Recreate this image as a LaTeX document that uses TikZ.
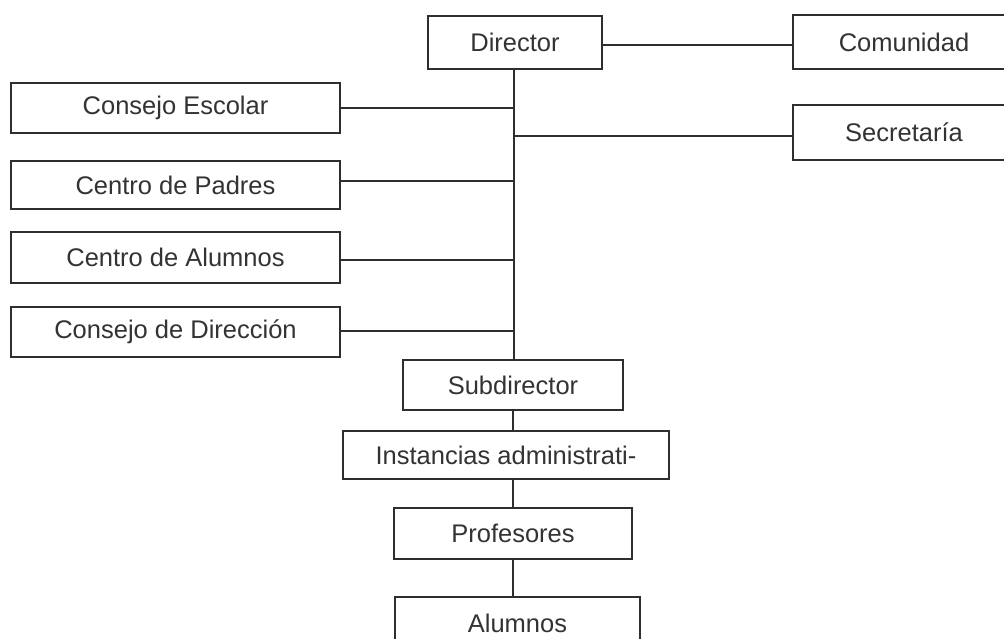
\documentclass[tikz,border=0pt]{standalone}
\usepackage{fontspec}
\setmainfont{Liberation Sans}
\definecolor{ink}{HTML}{2E2E2E}
\definecolor{txt}{HTML}{333333}
\tikzset{
  orgbox/.style={draw=ink, line width=1.8pt, fill=white, inner sep=0pt, text=txt,
    font=\fontsize{25.5}{29}\selectfont},
  link/.style={draw=ink, line width=1.8pt}
}
\begin{document}
\begin{tikzpicture}[x=1pt,y=-1pt]
\useasboundingbox (0,0) rectangle (1004,639);
\clip (0,0) rectangle (1004,639);
\node[orgbox, minimum width=174pt, minimum height=53pt] (dir) at (515,42.5) {Director};
\node[orgbox, minimum width=222pt, minimum height=54pt] (com) at (904,42) {Comunidad};
\node[orgbox, minimum width=222pt, minimum height=55pt] (sec) at (904,132.5) {Secretaría};
\node[orgbox, minimum width=329pt, minimum height=50pt] (ce) at (175.5,108) {Consejo Escolar};
\node[orgbox, minimum width=329pt, minimum height=48pt] (cp) at (175.5,185) {Centro de Padres};
\node[orgbox, minimum width=329pt, minimum height=51pt] (ca) at (175.5,257.5) {Centro de Alumnos};
\node[orgbox, minimum width=329pt, minimum height=50pt] (cd) at (175.5,332) {Consejo de Dirección};
\node[orgbox, minimum width=220pt, minimum height=50pt] (sub) at (513,385) {Subdirector};
\node[orgbox, minimum width=326pt, minimum height=48pt] (ins) at (506,455) {Instancias administrati-};
\node[orgbox, minimum width=238pt, minimum height=51pt] (pro) at (513,533.5) {Profesores};
\node[orgbox, minimum width=245pt, minimum height=52pt] (alu) at (517.5,623) {Alumnos};
\coordinate (sp) at (514,69);
\coordinate (yc) at (0,45);
\coordinate (ys) at (0,136);
\coordinate (yp) at (0,181);
\coordinate (ya) at (0,260);
\coordinate (yd) at (0,331);
\draw[link] (sp) -- (sp |- sub.north);
\draw[link] (dir.east |- yc) -- (com.west |- yc);
\draw[link] (sec.west |- ys) -- (sp |- ys);
\draw[link] (ce.east) -- (ce.east -| sp);
\draw[link] (cp.east |- yp) -- (sp |- yp);
\draw[link] (ca.east |- ya) -- (sp |- ya);
\draw[link] (cd.east |- yd) -- (sp |- yd);
\draw[link] (sub.south) -- (sub.south |- ins.north);
\draw[link] (pro.north |- ins.south) -- (pro.north);
\draw[link] (pro.south) -- (pro.south |- alu.north);
\end{tikzpicture}
\end{document}
